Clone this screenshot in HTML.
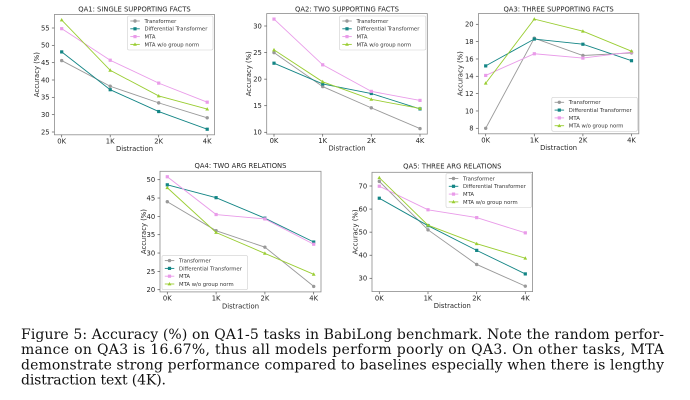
<!DOCTYPE html>
<html>
<head>
<meta charset="utf-8">
<style>
  html, body { margin: 0; padding: 0; background: #fff; }
  svg { display: block; }
  .t { font-family: "DejaVu Sans", "Liberation Sans", sans-serif; fill: #262626; }
  .tk { font-size: 6.8px; }
  .ttl { font-size: 6.8px; text-anchor: middle; }
  .lb { font-size: 6.8px; text-anchor: middle; }
  .lg { font-size: 5.3px; fill: #333; }
  .ax { fill: none; stroke: #8c8c8c; stroke-width: 0.8; }
  .tick { stroke: #555; stroke-width: 0.7; }
  .lgbox { fill: #fff; fill-opacity: 0.85; stroke: #d0d0d0; stroke-width: 0.6; }
  .sT { fill: none; stroke: #999999; stroke-width: 0.9; marker-start: url(#mT); marker-mid: url(#mT); marker-end: url(#mT); }
  .sD { fill: none; stroke: #138585; stroke-width: 0.9; marker-start: url(#mD); marker-mid: url(#mD); marker-end: url(#mD); }
  .sM { fill: none; stroke: #e99be9; stroke-width: 0.9; marker-start: url(#mM); marker-mid: url(#mM); marker-end: url(#mM); }
  .sW { fill: none; stroke: #9acd32; stroke-width: 0.9; marker-start: url(#mW); marker-mid: url(#mW); marker-end: url(#mW); }
  .hT { fill: none; stroke: #999999; stroke-width: 0.9; marker-mid: url(#mT); }
  .hD { fill: none; stroke: #138585; stroke-width: 0.9; marker-mid: url(#mD); }
  .hM { fill: none; stroke: #e99be9; stroke-width: 0.9; marker-mid: url(#mM); }
  .hW { fill: none; stroke: #9acd32; stroke-width: 0.9; marker-mid: url(#mW); }
  .cap { font-family: "DejaVu Serif", "Liberation Serif", serif; font-size: 14px; fill: #111; }
</style>
</head>
<body>
<svg width="690" height="400" viewBox="0 0 690 400" xmlns="http://www.w3.org/2000/svg">
<defs>
  <marker id="mT" viewBox="-2.5 -2.5 5 5" markerWidth="5" markerHeight="5" refX="0" refY="0" markerUnits="userSpaceOnUse"><circle r="1.7" fill="#999999"/></marker>
  <marker id="mD" viewBox="-2.5 -2.5 5 5" markerWidth="5" markerHeight="5" refX="0" refY="0" markerUnits="userSpaceOnUse"><rect x="-1.6" y="-1.6" width="3.2" height="3.2" fill="#138585"/></marker>
  <marker id="mM" viewBox="-2.5 -2.5 5 5" markerWidth="5" markerHeight="5" refX="0" refY="0" markerUnits="userSpaceOnUse"><rect x="-1.6" y="-1.6" width="3.2" height="3.2" fill="#e99be9"/></marker>
  <marker id="mW" viewBox="-2.5 -2.5 5 5" markerWidth="5" markerHeight="5" refX="0" refY="0" markerUnits="userSpaceOnUse"><path d="M0,-2 L1.9,1.4 L-1.9,1.4 Z" fill="#9acd32"/></marker>
</defs>
<rect x="0" y="0" width="690" height="400" fill="#fff"/>

<!-- ================= QA1 ================= -->
<g>
  <text class="t ttl" x="134.5" y="11.5">QA1: SINGLE SUPPORTING FACTS</text>
  <polyline class="sT" points="61.7,60.58 110.2,86.24 158.7,102.88 207.2,117.79"/>
  <polyline class="sD" points="61.7,51.91 110.2,89.7 158.7,111.54 207.2,129.23"/>
  <polyline class="sM" points="61.7,28.68 110.2,60.23 158.7,83.12 207.2,102.18"/>
  <polyline class="sW" points="61.7,20.02 110.2,70.29 158.7,95.94 207.2,109.12"/>
  <rect class="ax" x="54.4" y="14.5" width="160.1" height="120.3"/>
  <g class="tick">
    <line x1="61.7" y1="134.8" x2="61.7" y2="137.3"/><line x1="110.2" y1="134.8" x2="110.2" y2="137.3"/>
    <line x1="158.7" y1="134.8" x2="158.7" y2="137.3"/><line x1="207.2" y1="134.8" x2="207.2" y2="137.3"/>
    <line x1="51.9" y1="132" x2="54.4" y2="132"/><line x1="51.9" y1="114.67" x2="54.4" y2="114.67"/>
    <line x1="51.9" y1="97.33" x2="54.4" y2="97.33"/><line x1="51.9" y1="80" x2="54.4" y2="80"/>
    <line x1="51.9" y1="62.67" x2="54.4" y2="62.67"/><line x1="51.9" y1="45.33" x2="54.4" y2="45.33"/>
    <line x1="51.9" y1="28" x2="54.4" y2="28"/>
  </g>
  <g class="t tk" text-anchor="middle">
    <text x="61.7" y="143.6">0K</text><text x="110.2" y="143.6">1K</text>
    <text x="158.7" y="143.6">2K</text><text x="207.2" y="143.6">4K</text>
  </g>
  <g class="t tk" text-anchor="end">
    <text x="49.6" y="134.4">25</text><text x="49.6" y="117.07">30</text>
    <text x="49.6" y="99.73">35</text><text x="49.6" y="82.4">40</text>
    <text x="49.6" y="65.07">45</text><text x="49.6" y="47.73">50</text>
    <text x="49.6" y="30.4">55</text>
  </g>
  <text class="t lb" x="134.5" y="151.2">Distraction</text>
  <text class="t lb" transform="translate(39,74.6) rotate(-90)" x="0" y="0">Accuracy (%)</text>
  <rect class="lgbox" x="127.5" y="16" width="85.5" height="34" rx="1.5"/>
  <polyline class="hT" points="130.3,21 135,21 139.8,21"/>
  <polyline class="hD" points="130.3,28.8 135,28.8 139.8,28.8"/>
  <polyline class="hM" points="130.3,36.6 135,36.6 139.8,36.6"/>
  <polyline class="hW" points="130.3,44.4 135,44.4 139.8,44.4"/>
  <text class="t lg" x="144.5" y="22.9">Transformer</text>
  <text class="t lg" x="144.5" y="30.7">Differential Transformer</text>
  <text class="t lg" x="144.5" y="38.5">MTA</text>
  <text class="t lg" x="144.5" y="46.3">MTA w/o group norm</text>
</g>

<!-- ================= QA2 ================= -->
<g>
  <text class="t ttl" x="347" y="11.5">QA2: TWO SUPPORTING FACTS</text>
  <polyline class="sT" points="274,52.57 322.7,86.59 371.3,107.85 420,128.58"/>
  <polyline class="sD" points="274,63.2 322.7,83.93 371.3,93.5 420,108.91"/>
  <polyline class="sM" points="274,19.09 322.7,64.8 371.3,91.37 420,100.41"/>
  <polyline class="sW" points="274,49.92 322.7,81.81 371.3,99.35 420,108.38"/>
  <rect class="ax" x="266.7" y="13.6" width="160.6" height="120.5"/>
  <g class="tick">
    <line x1="274" y1="134.1" x2="274" y2="136.6"/><line x1="322.7" y1="134.1" x2="322.7" y2="136.6"/>
    <line x1="371.3" y1="134.1" x2="371.3" y2="136.6"/><line x1="420" y1="134.1" x2="420" y2="136.6"/>
    <line x1="264.2" y1="132.3" x2="266.7" y2="132.3"/><line x1="264.2" y1="105.7" x2="266.7" y2="105.7"/>
    <line x1="264.2" y1="79.15" x2="266.7" y2="79.15"/><line x1="264.2" y1="52.57" x2="266.7" y2="52.57"/>
    <line x1="264.2" y1="26" x2="266.7" y2="26"/>
  </g>
  <g class="t tk" text-anchor="middle">
    <text x="274" y="142.9">0K</text><text x="322.7" y="142.9">1K</text>
    <text x="371.3" y="142.9">2K</text><text x="420" y="142.9">4K</text>
  </g>
  <g class="t tk" text-anchor="end">
    <text x="261.9" y="134.7">10</text><text x="261.9" y="108.1">15</text>
    <text x="261.9" y="81.55">20</text><text x="261.9" y="54.97">25</text>
    <text x="261.9" y="28.4">30</text>
  </g>
  <text class="t lb" x="347" y="150.5">Distraction</text>
  <text class="t lb" transform="translate(250.8,73.8) rotate(-90)" x="0" y="0">Accuracy (%)</text>
  <rect class="lgbox" x="339.5" y="16" width="86.3" height="34" rx="1.5"/>
  <polyline class="hT" points="342.3,21 347,21 351.8,21"/>
  <polyline class="hD" points="342.3,28.8 347,28.8 351.8,28.8"/>
  <polyline class="hM" points="342.3,36.6 347,36.6 351.8,36.6"/>
  <polyline class="hW" points="342.3,44.4 347,44.4 351.8,44.4"/>
  <text class="t lg" x="356.5" y="22.9">Transformer</text>
  <text class="t lg" x="356.5" y="30.7">Differential Transformer</text>
  <text class="t lg" x="356.5" y="38.5">MTA</text>
  <text class="t lg" x="356.5" y="46.3">MTA w/o group norm</text>
</g>

<!-- ================= QA3 ================= -->
<g>
  <text class="t ttl" x="558.6" y="11.5">QA3: THREE SUPPORTING FACTS</text>
  <polyline class="sT" points="485.7,128.3 534.3,38.16 582.9,55.5 631.5,52.9"/>
  <polyline class="sD" points="485.7,65.9 534.3,39.03 582.9,44.23 631.5,60.7"/>
  <polyline class="sM" points="485.7,75.43 534.3,53.76 582.9,58.1 631.5,52.03"/>
  <polyline class="sW" points="485.7,83.23 534.3,19.1 582.9,31.23 631.5,51.16"/>
  <rect class="ax" x="478.4" y="13.6" width="160.4" height="120.2"/>
  <g class="tick">
    <line x1="485.7" y1="133.8" x2="485.7" y2="136.3"/><line x1="534.3" y1="133.8" x2="534.3" y2="136.3"/>
    <line x1="582.9" y1="133.8" x2="582.9" y2="136.3"/><line x1="631.5" y1="133.8" x2="631.5" y2="136.3"/>
    <line x1="475.9" y1="128.3" x2="478.4" y2="128.3"/><line x1="475.9" y1="110.97" x2="478.4" y2="110.97"/>
    <line x1="475.9" y1="93.63" x2="478.4" y2="93.63"/><line x1="475.9" y1="76.3" x2="478.4" y2="76.3"/>
    <line x1="475.9" y1="58.97" x2="478.4" y2="58.97"/><line x1="475.9" y1="41.63" x2="478.4" y2="41.63"/>
    <line x1="475.9" y1="24.3" x2="478.4" y2="24.3"/>
  </g>
  <g class="t tk" text-anchor="middle">
    <text x="485.7" y="142.6">0K</text><text x="534.3" y="142.6">1K</text>
    <text x="582.9" y="142.6">2K</text><text x="631.5" y="142.6">4K</text>
  </g>
  <g class="t tk" text-anchor="end">
    <text x="473.6" y="130.7">8</text><text x="473.6" y="113.37">10</text>
    <text x="473.6" y="96.03">12</text><text x="473.6" y="78.7">14</text>
    <text x="473.6" y="61.37">16</text><text x="473.6" y="44.03">18</text>
    <text x="473.6" y="26.7">20</text>
  </g>
  <text class="t lb" x="558.6" y="150.2">Distraction</text>
  <text class="t lb" transform="translate(462.5,73.7) rotate(-90)" x="0" y="0">Accuracy (%)</text>
  <rect class="lgbox" x="551.8" y="97.3" width="85.5" height="34" rx="1.5"/>
  <polyline class="hT" points="554.6,102.3 559.3,102.3 564.1,102.3"/>
  <polyline class="hD" points="554.6,110.1 559.3,110.1 564.1,110.1"/>
  <polyline class="hM" points="554.6,117.9 559.3,117.9 564.1,117.9"/>
  <polyline class="hW" points="554.6,125.7 559.3,125.7 564.1,125.7"/>
  <text class="t lg" x="568.8" y="104.2">Transformer</text>
  <text class="t lg" x="568.8" y="112">Differential Transformer</text>
  <text class="t lg" x="568.8" y="119.8">MTA</text>
  <text class="t lg" x="568.8" y="127.6">MTA w/o group norm</text>
</g>

<!-- ================= QA4 ================= -->
<g>
  <text class="t ttl" x="240.5" y="168.2">QA4: TWO ARG RELATIONS</text>
  <polyline class="sT" points="167.3,201.7 216.1,230.66 264.9,247.16 313.7,286.4"/>
  <polyline class="sD" points="167.3,184.82 216.1,197.66 264.9,218.19 313.7,242.03"/>
  <polyline class="sM" points="167.3,176.76 216.1,214.53 264.9,218.93 313.7,244.23"/>
  <polyline class="sW" points="167.3,187.76 216.1,232.5 264.9,253.4 313.7,274.3"/>
  <rect class="ax" x="160" y="171.3" width="161" height="120.6"/>
  <g class="tick">
    <line x1="167.3" y1="291.9" x2="167.3" y2="294.4"/><line x1="216.1" y1="291.9" x2="216.1" y2="294.4"/>
    <line x1="264.9" y1="291.9" x2="264.9" y2="294.4"/><line x1="313.7" y1="291.9" x2="313.7" y2="294.4"/>
    <line x1="157.5" y1="289.7" x2="160" y2="289.7"/><line x1="157.5" y1="271.37" x2="160" y2="271.37"/>
    <line x1="157.5" y1="253.03" x2="160" y2="253.03"/><line x1="157.5" y1="234.7" x2="160" y2="234.7"/>
    <line x1="157.5" y1="216.37" x2="160" y2="216.37"/><line x1="157.5" y1="198.03" x2="160" y2="198.03"/>
    <line x1="157.5" y1="179.7" x2="160" y2="179.7"/>
  </g>
  <g class="t tk" text-anchor="middle">
    <text x="167.3" y="300.7">0K</text><text x="216.1" y="300.7">1K</text>
    <text x="264.9" y="300.7">2K</text><text x="313.7" y="300.7">4K</text>
  </g>
  <g class="t tk" text-anchor="end">
    <text x="155.2" y="292.1">20</text><text x="155.2" y="273.77">25</text>
    <text x="155.2" y="255.43">30</text><text x="155.2" y="237.1">35</text>
    <text x="155.2" y="218.77">40</text><text x="155.2" y="200.43">45</text>
    <text x="155.2" y="182.1">50</text>
  </g>
  <text class="t lb" x="240.5" y="308.3">Distraction</text>
  <text class="t lb" transform="translate(145.8,231.6) rotate(-90)" x="0" y="0">Accuracy (%)</text>
  <rect class="lgbox" x="162" y="255.6" width="85.5" height="34" rx="1.5"/>
  <polyline class="hT" points="164.8,260.6 169.5,260.6 174.3,260.6"/>
  <polyline class="hD" points="164.8,268.4 169.5,268.4 174.3,268.4"/>
  <polyline class="hM" points="164.8,276.2 169.5,276.2 174.3,276.2"/>
  <polyline class="hW" points="164.8,284 169.5,284 174.3,284"/>
  <text class="t lg" x="179" y="262.5">Transformer</text>
  <text class="t lg" x="179" y="270.3">Differential Transformer</text>
  <text class="t lg" x="179" y="278.1">MTA</text>
  <text class="t lg" x="179" y="285.9">MTA w/o group norm</text>
</g>

<!-- ================= QA5 ================= -->
<g>
  <text class="t ttl" x="452.3" y="168.6">QA5: THREE ARG RELATIONS</text>
  <polyline class="sT" points="379.3,181.38 428,229.84 476.7,264.45 525.3,286.15"/>
  <polyline class="sD" points="379.3,198.23 428,225.69 476.7,250.38 525.3,273.92"/>
  <polyline class="sM" points="379.3,186.23 428,209.77 476.7,217.61 525.3,232.84"/>
  <polyline class="sW" points="379.3,177.69 428,225.23 476.7,243.69 525.3,258.22"/>
  <rect class="ax" x="372" y="172.3" width="160.6" height="119.3"/>
  <g class="tick">
    <line x1="379.3" y1="291.6" x2="379.3" y2="294.1"/><line x1="428" y1="291.6" x2="428" y2="294.1"/>
    <line x1="476.7" y1="291.6" x2="476.7" y2="294.1"/><line x1="525.3" y1="291.6" x2="525.3" y2="294.1"/>
    <line x1="369.5" y1="278.3" x2="372" y2="278.3"/><line x1="369.5" y1="255.23" x2="372" y2="255.23"/>
    <line x1="369.5" y1="232.15" x2="372" y2="232.15"/><line x1="369.5" y1="209.08" x2="372" y2="209.08"/>
    <line x1="369.5" y1="186" x2="372" y2="186"/>
  </g>
  <g class="t tk" text-anchor="middle">
    <text x="379.3" y="300.4">0K</text><text x="428" y="300.4">1K</text>
    <text x="476.7" y="300.4">2K</text><text x="525.3" y="300.4">4K</text>
  </g>
  <g class="t tk" text-anchor="end">
    <text x="367.2" y="280.7">30</text><text x="367.2" y="257.63">40</text>
    <text x="367.2" y="234.55">50</text><text x="367.2" y="211.48">60</text>
    <text x="367.2" y="188.4">70</text>
  </g>
  <text class="t lb" x="452.3" y="308">Distraction</text>
  <text class="t lb" transform="translate(357.5,232) rotate(-90)" x="0" y="0">Accuracy (%)</text>
  <rect class="lgbox" x="446" y="173.5" width="85.5" height="34" rx="1.5"/>
  <polyline class="hT" points="448.8,178.5 453.5,178.5 458.3,178.5"/>
  <polyline class="hD" points="448.8,186.3 453.5,186.3 458.3,186.3"/>
  <polyline class="hM" points="448.8,194.1 453.5,194.1 458.3,194.1"/>
  <polyline class="hW" points="448.8,201.9 453.5,201.9 458.3,201.9"/>
  <text class="t lg" x="463" y="180.4">Transformer</text>
  <text class="t lg" x="463" y="188.2">Differential Transformer</text>
  <text class="t lg" x="463" y="196">MTA</text>
  <text class="t lg" x="463" y="203.8">MTA w/o group norm</text>
</g>

<!-- ================= Caption ================= -->
<text class="cap" x="21" y="339" textLength="643" lengthAdjust="spacing">Figure 5: Accuracy (%) on QA1-5 tasks in BabiLong benchmark. Note the random perfor-</text>
<text class="cap" x="21" y="354.2" textLength="643" lengthAdjust="spacing">mance on QA3 is 16.67%, thus all models perform poorly on QA3. On other tasks, MTA</text>
<text class="cap" x="21" y="369.4" textLength="643" lengthAdjust="spacing">demonstrate strong performance compared to baselines especially when there is lengthy</text>
<text class="cap" x="21" y="384.6" textLength="145" lengthAdjust="spacing">distraction text (4K).</text>
</svg>
</body>
</html>
